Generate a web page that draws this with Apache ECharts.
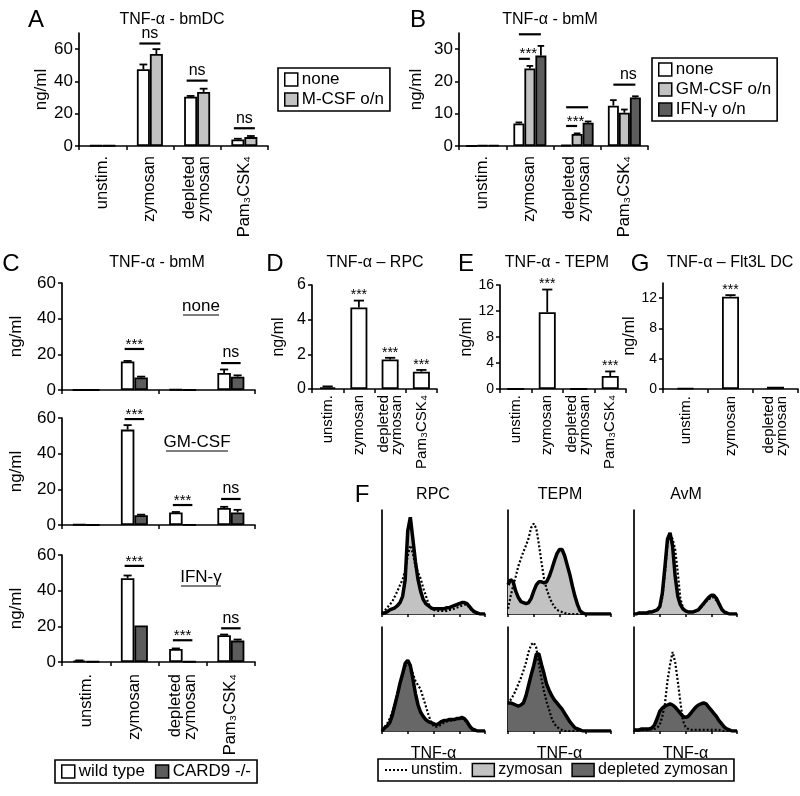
<!DOCTYPE html>
<html><head><meta charset="utf-8">
<script src="https://cdn.jsdelivr.net/npm/echarts@6/dist/echarts.min.js"></script>
<style>html,body{margin:0;padding:0;background:#fff}#c{width:800px;height:796px}</style>
</head><body><div id="c"></div><script>
// ---------- categories ----------
const cats4 = ['unstim.', 'zymosan', 'depleted\nzymosan', 'Pam₃CSK₄'];
const cats3 = ['unstim.', 'zymosan', 'depleted\nzymosan'];

// ---------- A: TNF-α - bmDC ----------
const aNone = [0.3, 47.5, 30.5, 4.0];
const aNoneErr = [0, 3, 0.5, 0.5];
const aMcsf = [0.3, 57, 33.5, 5.5];
const aMcsfErr = [0, 3, 2, 0.7];
const aSig = [[1, 0, 1, 63.5, 'ns'], [2, 0, 1, 40.5, 'ns'], [3, 0, 1, 11, 'ns']];

// ---------- B: TNF-α - bmM ----------
const bNone = [0, 7, 0.3, 12.5];
const bNoneErr = [0, 0.3, 0, 1.7];
const bGm = [0.2, 24, 3.7, 10.3];
const bGmErr = [0, 0.8, 0.2, 1];
const bIfn = [0.2, 28, 7.2, 15];
const bIfnErr = [0, 3, 0.4, 0.4];
const bSig = [[1, 0, 2, 34.6, ''], [1, 0, 1, 27, '***'], [2, 0, 2, 12, ''], [2, 0, 1, 6.2, '***'], [3, 0, 2, 19, 'ns']];

// ---------- C: TNF-α - bmM, wild type vs CARD9 -/- ----------
const c1Wt = [0, 16, 0.3, 9.5];
const c1WtErr = [0, 0.3, 0, 2];
const c1Ko = [0, 7, 0, 7.5];
const c1KoErr = [0, 0.5, 0, 0.7];
const c1Sig = [[1, 0, 1, 23, '***'], [3, 0, 1, 15.1, 'ns']];
const c2Wt = [0.3, 53.5, 7, 9.5];
const c2WtErr = [0, 2.5, 0.3, 0.7];
const c2Ko = [0, 5.5, 0.2, 7];
const c2KoErr = [0, 0.3, 0, 1.5];
const c2Sig = [[1, 0, 1, 59.4, '***'], [2, 0, 1, 11.2, '***'], [3, 0, 1, 14.6, 'ns']];
const c3Wt = [0.8, 47, 7.3, 15];
const c3WtErr = [0.1, 1.5, 0.3, 0.4];
const c3Ko = [0.3, 20.5, 0.3, 12];
const c3KoErr = [0, 0, 0, 0.6];
const c3Sig = [[1, 0, 1, 53.9, '***'], [2, 0, 1, 12.2, '***'], [3, 0, 1, 18.9, 'ns']];

// ---------- D, E, G ----------
const dVal = [0.1, 4.7, 1.7, 1.0];
const dErr = [0.05, 0.4, 0.1, 0.1];
const dStars = ['', '***', '***', '***'];
const eVal = [0, 11.8, 0, 2];
const eErr = [0, 3.5, 0, 0.7];
const eStars = ['', '***', '', '***'];
const gVal = [0.1, 12.2, 0.3];
const gErr = [0, 0.2, 0];
const gStars = ['', '***', ''];

// ---------- tick labels ----------
const ticksA = [0, 20, 40, 60];
const ticksB = [0, 10, 20, 30];
const ticksC = [0, 20, 40, 60];
const ticksD = [0, 2, 4, 6];
const ticksE = [0, 4, 8, 12, 16];
const ticksG = [0, 4, 8, 12];

// ---------- F: histograms (x = % of TNF-α axis, y = % of axis height) ----------
const histX = [0,2.5,5,7.5,10,12.5,15,17.5,20,22.5,25,27.5,30,32.5,35,37.5,40,42.5,45,47.5,50,52.5,55,57.5,60,62.5,65,67.5,70,72.5,75,77.5,80,82.5,85,87.5,90,92.5,95,97.5,100];
const rpcUn1  = [1,3,6,9,12,17,22,28,33,42,56,66,58,46,40,34,25,18,10,6,4,3,3,3,3,3,4,4,5,6,7,8,9,9,6,3,1,0,0,0,0];
const rpcZym  = [0,1,2,4,5,6,8,11,17,33,80,93,72,50,33,22,14,10,8,6,5,5,5,5,5,6,6,7,8,9,10,11,11,10,7,4,2,1,0,0,0];
const tepmUn1 = [5,17,27,36,46,53,60,66,73,83,87,82,67,50,34,24,17,11,7,4,3,2,1,0,0,0,0,0,0,0,0,0,0,0,0,0,0,0,0,0,0];
const tepmZym = [28,33,31,22,16,12,11,10,11,15,22,28,31,31,30,31,36,43,51,58,62,62,56,47,38,27,17,9,3,1,0,0,0,0,0,0,0,0,0,0,0];
const avmUn1  = [0,0,1,1,1,1,2,2,3,4,6,16,38,68,76,72,62,40,15,6,3,2,2,2,3,4,6,9,12,14,16,16,13,9,4,2,1,0,0,0,0];
const avmZym  = [0,0,1,1,1,1,2,2,3,4,7,20,45,72,78,65,36,17,9,5,3,2,2,2,3,4,7,10,13,16,18,18,15,10,5,2,1,0,0,0,0];
const rpcUn2  = [1,4,7,12,18,26,36,45,54,62,66,62,55,48,44,40,32,24,16,9,5,4,5,6,8,9,10,10,11,11,12,12,11,8,4,1,0,0,0,0,0];
const rpcDep  = [0,3,5,8,15,25,35,46,55,65,68,63,50,36,25,18,14,11,9,8,7,6,7,9,10,10,11,11,11,12,12,13,12,9,5,2,1,0,0,0,0];
const tepmUn2 = [26,30,34,39,45,51,58,66,76,83,85,80,64,50,38,28,20,12,7,4,2,1,0,0,0,0,0,0,0,0,0,0,0,0,0,0,0,0,0,0,0];
const tepmDep = [27,27,26,25,24,25,27,34,44,54,63,74,74,64,55,45,39,34,30,27,24,21,17,13,9,6,3,2,1,0,0,0,0,0,0,0,0,0,0,0,0];
const avmUn2  = [1,1,1,1,1,1,1,2,2,3,6,14,26,48,64,76,66,48,28,10,4,2,1,1,1,1,1,1,1,1,1,1,1,1,0,0,0,0,0,0,0];
const avmDep  = [1,1,1,2,2,2,2,3,6,12,19,22,24,25,26,25,23,20,17,14,13,14,17,20,23,25,26,27,26,23,20,17,14,10,7,4,2,1,0,0,0];

// ---------- styling ----------
const FONT = '"Liberation Sans", Arial, Helvetica, sans-serif';
const WHITE = '#ffffff', LIGHT = '#c2c2c2', DARK = '#5c5c5c', HDARK = '#676767';

const grids = [], xAxes = [], yAxes = [], series = [];
const axisLine = { show: true, onZero: false, lineStyle: { color: '#000', width: 1.7 } };
const tickStyle = { color: '#000', width: 1.5 };

function addGrid(r) { grids.push(Object.assign({ containLabel: false, show: false }, r)); return grids.length - 1; }

function barPanel(cfg) {
  const gi = addGrid(cfg.rect);
  xAxes.push({
    type: 'category', gridIndex: gi, data: cfg.cats,
    axisLine: axisLine,
    axisTick: { show: true, length: 4, inside: false, lineStyle: tickStyle },
    axisLabel: cfg.showLabels ? {
      show: true, rotate: 90, interval: 0, color: '#000', fontFamily: FONT,
      fontSize: cfg.labelSize, lineHeight: cfg.labelLH, margin: cfg.labelMargin
    } : { show: false },
    splitLine: { show: false }
  });
  const xi = xAxes.length - 1;
  yAxes.push({
    type: 'value', gridIndex: gi, min: 0, max: cfg.max,
    axisLine: axisLine,
    axisTick: { show: true, length: 4, lineStyle: tickStyle, customValues: cfg.ticks },
    axisLabel: { color: '#000', fontFamily: FONT, fontSize: cfg.tickSize, margin: 6, customValues: cfg.ticks },
    splitLine: { show: false },
    name: 'ng/ml', nameLocation: 'middle', nameGap: cfg.nameGap, nameRotate: 90,
    nameTextStyle: { color: '#000', fontFamily: FONT, fontSize: cfg.nameSize }
  });
  const yi = yAxes.length - 1;
  const n = cfg.groups.length;
  cfg.groups.forEach((g) => {
    series.push({
      type: 'bar', name: g.name, xAxisIndex: xi, yAxisIndex: yi, data: g.values,
      barWidth: cfg.W, barGap: '0%', silent: true,
      itemStyle: { color: g.color, borderColor: '#000', borderWidth: 1.8 }
    });
  });
  cfg.groups.forEach((g, bi) => {
    series.push({
      type: 'custom', xAxisIndex: xi, yAxisIndex: yi, silent: true, z: 4,
      data: g.values.map((v, i) => [i, v]),
      renderItem: (params, api) => {
        const i = params.dataIndex, v = g.values[i], e = g.errors[i];
        const base = api.coord([i, v]);
        const x = base[0] + (bi - (n - 1) / 2) * cfg.W;
        const children = [];
        let top = base[1];
        if (e > 0) {
          top = api.coord([i, v + e])[1];
          children.push({ type: 'line', shape: { x1: x, y1: base[1], x2: x, y2: top }, style: { stroke: '#000', lineWidth: 1.8 } });
          children.push({ type: 'line', shape: { x1: x - cfg.W * 0.3, y1: top, x2: x + cfg.W * 0.3, y2: top }, style: { stroke: '#000', lineWidth: 1.8 } });
        }
        if (g.stars && g.stars[i]) {
          children.push({ type: 'text', x: x, y: top + 2, style: { text: g.stars[i], align: 'center', verticalAlign: 'bottom', font: '14px ' + FONT, fill: '#000' } });
        }
        return { type: 'group', children };
      }
    });
  });
  if (cfg.sig) {
    series.push({
      type: 'custom', xAxisIndex: xi, yAxisIndex: yi, silent: true, z: 4,
      data: cfg.sig.map(s => [s[0], s[3]]),
      renderItem: (params, api) => {
        const s = cfg.sig[params.dataIndex];
        const c = api.coord([s[0], s[3]]);
        const x1 = c[0] + (s[1] - (n - 1) / 2) * cfg.W - cfg.sigExt;
        const x2 = c[0] + (s[2] - (n - 1) / 2) * cfg.W + cfg.sigExt;
        const children = [{ type: 'line', shape: { x1, y1: c[1], x2, y2: c[1] }, style: { stroke: '#000', lineWidth: 2.2 } }];
        if (s[4]) {
          const isNs = s[4] === 'ns';
          children.push({ type: 'text', x: (x1 + x2) / 2 + (cfg.sigTextShift || 0), y: c[1] + (isNs ? -2 : 3),
            style: { text: s[4], align: 'center', verticalAlign: 'bottom', font: (isNs ? '16px ' : '15px ') + FONT, fill: '#000' } });
        }
        return { type: 'group', children };
      }
    });
  }
}

// A
barPanel({ rect: { left: 79, top: 33, width: 189, height: 113 }, cats: cats4, showLabels: true, labelSize: 16.5, labelLH: 15, labelMargin: 10,
  max: 70, ticks: ticksA, tickSize: 17, nameGap: 29, nameSize: 17, W: 13, sigExt: 4,
  groups: [{ name: 'none', values: aNone, errors: aNoneErr, color: WHITE }, { name: 'M-CSF o/n', values: aMcsf, errors: aMcsfErr, color: LIGHT }],
  sig: aSig });
// B
barPanel({ rect: { left: 459, top: 33, width: 189, height: 113 }, cats: cats4, showLabels: true, labelSize: 16.5, labelLH: 15, labelMargin: 10,
  max: 35, ticks: ticksB, tickSize: 17, nameGap: 34, nameSize: 17, W: 11, sigExt: 0, sigTextShift: 4,
  groups: [{ name: 'none', values: bNone, errors: bNoneErr, color: WHITE }, { name: 'GM-CSF o/n', values: bGm, errors: bGmErr, color: LIGHT },
           { name: 'IFN-γ o/n', values: bIfn, errors: bIfnErr, color: DARK }],
  sig: bSig });
// C1..C3
[[c1Wt, c1WtErr, c1Ko, c1KoErr, c1Sig, 283, false], [c2Wt, c2WtErr, c2Ko, c2KoErr, c2Sig, 418, false], [c3Wt, c3WtErr, c3Ko, c3KoErr, c3Sig, 555, true]]
.forEach(p => {
  barPanel({ rect: { left: 62, top: p[5], width: 193, height: 107 }, cats: cats4, showLabels: p[6], labelSize: 16.5, labelLH: 15, labelMargin: 12,
    max: 60, ticks: ticksC, tickSize: 17, nameGap: 37, nameSize: 17, W: 13.5, sigExt: 3,
    groups: [{ name: 'wild type', values: p[0], errors: p[1], color: WHITE }, { name: 'CARD9 -/-', values: p[2], errors: p[3], color: DARK }],
    sig: p[4] });
});
// D
barPanel({ rect: { left: 312, top: 285, width: 125, height: 104 }, cats: cats4, showLabels: true, labelSize: 15, labelLH: 13, labelMargin: 6,
  max: 6, ticks: ticksD, tickSize: 16, nameGap: 25, nameSize: 16, W: 17,
  groups: [{ name: 'RPC', values: dVal, errors: dErr, color: WHITE, stars: dStars }] });
// E
barPanel({ rect: { left: 500, top: 285, width: 126, height: 104 }, cats: cats4, showLabels: true, labelSize: 15, labelLH: 13, labelMargin: 6,
  max: 16, ticks: ticksE, tickSize: 14, nameGap: 25, nameSize: 16, W: 17,
  groups: [{ name: 'TEPM', values: eVal, errors: eErr, color: WHITE, stars: eStars }] });
// G
barPanel({ rect: { left: 663, top: 283, width: 135, height: 106 }, cats: cats3, showLabels: true, labelSize: 15, labelLH: 13, labelMargin: 7,
  max: 14, ticks: ticksG, tickSize: 14, nameGap: 21, nameSize: 16, W: 17,
  groups: [{ name: 'Flt3L DC', values: gVal, errors: gErr, color: WHITE, stars: gStars }] });

// hidden grid carrying legend-only square swatches for F
const hg = addGrid({ left: -200, top: -200, width: 10, height: 10 });
xAxes.push({ type: 'category', gridIndex: hg, show: false, data: ['x'] });
yAxes.push({ type: 'value', gridIndex: hg, show: false });
const hxi = xAxes.length - 1, hyi = yAxes.length - 1;
series.unshift(
  { type: 'bar', name: 'zymosan', xAxisIndex: hxi, yAxisIndex: hyi, data: [], itemStyle: { color: LIGHT, borderColor: '#000', borderWidth: 1.5 } },
  { type: 'bar', name: 'depleted zymosan', xAxisIndex: hxi, yAxisIndex: hyi, data: [], itemStyle: { color: HDARK, borderColor: '#000', borderWidth: 1.5 } }
);

// F histograms
const histCols = [382, 508, 634];
const histRows = [510, 627];
const histSets = [
  [[rpcUn1, rpcZym], [tepmUn1, tepmZym], [avmUn1, avmZym]],
  [[rpcUn2, rpcDep], [tepmUn2, tepmDep], [avmUn2, avmDep]]
];
histSets.forEach((row, r) => {
  row.forEach((pair, c) => {
    const gi = addGrid({ left: histCols[c], top: histRows[r], width: 103, height: 104 });
    xAxes.push({
      type: 'value', gridIndex: gi, min: 0, max: 100, axisLine: axisLine,
      axisTick: { show: true, length: 3, lineStyle: tickStyle, customValues: [0, 25, 50, 75, 100] },
      axisLabel: { show: false }, splitLine: { show: false },
      name: r === 1 ? 'TNF-α' : '', nameLocation: 'middle', nameGap: 15,
      nameTextStyle: { color: '#000', fontFamily: FONT, fontSize: 16 }
    });
    yAxes.push({ type: 'value', gridIndex: gi, min: 0, max: 100, axisLine: axisLine, axisTick: { show: false }, axisLabel: { show: false }, splitLine: { show: false } });
    const xi = xAxes.length - 1, yi = yAxes.length - 1;
    series.push({
      type: 'line', name: r === 0 ? 'zymosan' : 'depleted zymosan', xAxisIndex: xi, yAxisIndex: yi,
      data: histX.map((x, k) => [x, pair[1][k]]), symbol: 'none', silent: true, z: 2,
      lineStyle: { color: '#000', width: 3.5 }, areaStyle: { color: r === 0 ? LIGHT : HDARK, opacity: 1 }
    });
    series.push({
      type: 'line', name: 'unstim.', xAxisIndex: xi, yAxisIndex: yi,
      data: histX.map((x, k) => [x, pair[0][k]]), symbol: 'none', silent: true, z: 3,
      lineStyle: { color: '#000', width: 2.2, type: [2, 2] }
    });
  });
});

// annotations
const T = (text, x, y, size) => ({ type: 'text', x, y, style: { text, align: 'center', verticalAlign: 'middle', font: size + 'px ' + FONT, fill: '#000' } });
const U = (x1, x2, y) => ({ type: 'line', shape: { x1, y1: y, x2, y2: y }, style: { stroke: '#000', lineWidth: 1.2 } });
const graphic = [
  T('A', 36, 20, 24), T('TNF-α - bmDC', 172, 20, 16),
  T('B', 418, 20, 24), T('TNF-α - bmM', 550, 20, 16),
  T('C', 11, 264, 24), T('TNF-α - bmM', 157, 263, 16),
  T('D', 275, 264, 24), T('TNF-α – RPC', 375, 263, 16),
  T('E', 466, 264, 24), T('TNF-α - TEPM', 557, 263, 16),
  T('G', 640, 264, 24), T('TNF-α – Flt3L DC', 730, 263, 16),
  T('F', 362, 495, 24), T('RPC', 433, 495, 16), T('TEPM', 560, 495, 16), T('AvM', 686, 495, 16),
  T('none', 201, 306, 17), U(183, 219, 315),
  T('GM-CSF', 197, 442, 17), U(166, 228, 451),
  T('IFN-γ', 201, 577, 17), U(181, 221, 586)
];

const legendBase = {
  borderColor: '#000', borderWidth: 1.6, borderRadius: 0, padding: [3, 6, 3, 6], itemGap: 3,
  itemWidth: 13, itemHeight: 13, selectedMode: false, icon: 'rect',
  itemStyle: { borderColor: '#000', borderWidth: 1.5 },
  textStyle: { color: '#000', fontFamily: FONT, fontSize: 17, padding: [0, 0, 0, -1] }
};

const option = {
  animation: false,
  backgroundColor: '#fff',
  grid: grids, xAxis: xAxes, yAxis: yAxes, series,
  graphic,
  legend: [
    Object.assign({}, legendBase, { left: 278, top: 68, orient: 'vertical', data: ['none', 'M-CSF o/n'] }),
    Object.assign({}, legendBase, { left: 652, top: 58, orient: 'vertical', data: ['none', 'GM-CSF o/n', 'IFN-γ o/n'] }),
    Object.assign({}, legendBase, { left: 55, top: 760, orient: 'horizontal', itemGap: 10, data: ['wild type', 'CARD9 -/-'] }),
    Object.assign({}, legendBase, { left: 378, top: 759, orient: 'horizontal', itemGap: 9, itemWidth: 22,
      textStyle: { color: '#000', fontFamily: FONT, fontSize: 16, padding: [0, 0, 0, -1] },
      data: [{ name: 'unstim.', icon: 'inherit', itemStyle: { opacity: 0 } }, { name: 'zymosan', icon: 'rect' }, { name: 'depleted zymosan', icon: 'rect' }] })
  ]
};
const chart = echarts.init(document.getElementById('c'));
chart.setOption(option);
</script></body></html>
